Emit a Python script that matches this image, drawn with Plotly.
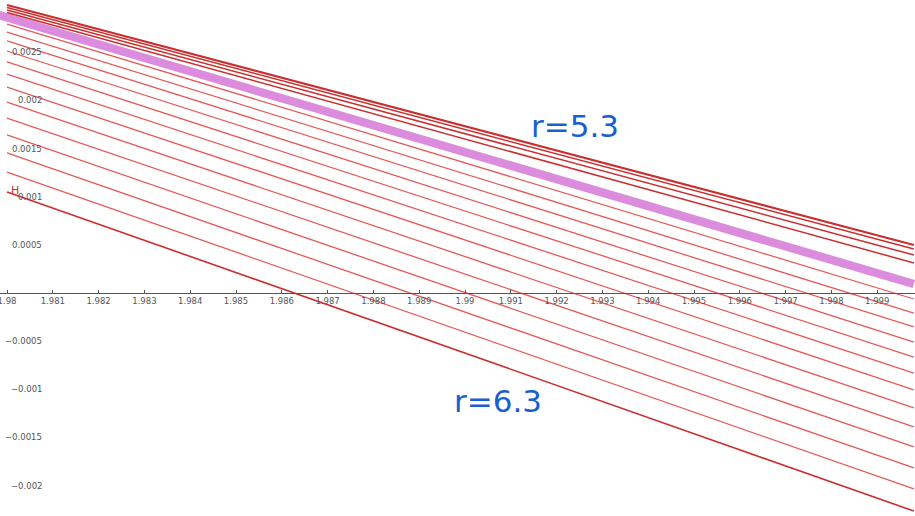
import plotly.graph_objects as go

# ---- data ----
x_start = 1.98
x_end = 1.9998

# upper cluster (near r=5.3)
top_left = [0.002991, 0.002965, 0.002939, 0.002913]
top_right = [0.000498, 0.000457, 0.000395, 0.000312]

# highlighted (magenta) curve
mag_left = 0.002861
mag_right = 0.0000935

# lower family (down to r=6.3)
low_left = [0.002793, 0.002710, 0.002617, 0.002513, 0.002399, 0.002274, 0.002139,
            0.001983, 0.001817, 0.001641, 0.001454, 0.001256, 0.001049]
low_right = [-0.0000623, -0.000208, -0.000353, -0.000509, -0.000665, -0.000831, -0.001007,
             -0.001194, -0.001391, -0.001599, -0.001817, -0.002035, -0.002264]

x_ticks = [1.98, 1.981, 1.982, 1.983, 1.984, 1.985, 1.986, 1.987, 1.988, 1.989, 1.99,
           1.991, 1.992, 1.993, 1.994, 1.995, 1.996, 1.997, 1.998, 1.999]
x_ticktext = ["1.98", "1.981", "1.982", "1.983", "1.984", "1.985", "1.986", "1.987", "1.988",
              "1.989", "1.99", "1.991", "1.992", "1.993", "1.994", "1.995", "1.996", "1.997",
              "1.998", "1.999"]
y_ticks = [0.0025, 0.002, 0.0015, 0.001, 0.0005, -0.0005, -0.001, -0.0015, -0.002]
y_ticktext = ["0.0025", "0.002", "0.0015", "0.001", "0.0005", "\u22120.0005", "\u22120.001",
              "\u22120.0015", "\u22120.002"]

labels = ["r=5.3", "r=6.3"]

# ---- layout constants ----
W, H = 915, 516
px_per_x = 45800.0      # pixels per unit x
px_per_y = 96300.0      # pixels per unit H
x0 = 1.98 - 7 / px_per_x
x1 = x0 + W / px_per_x
y1 = 293 / px_per_y
y0 = -(H - 293) / px_per_y

def px2x(p):
    return x0 + p / px_per_x

def py2y(p):
    return (293 - p) / px_per_y

fig = go.Figure()

thin = "rgba(224,68,68,0.88)"
dark = "#c92f2f"

for i, (a, b) in enumerate(zip(low_left, low_right)):
    last = i == len(low_left) - 1
    fig.add_trace(go.Scatter(x=[x_start, x_end], y=[a, b], mode="lines",
                             line=dict(color=dark if last else thin, width=1.6 if last else 1.3),
                             hoverinfo="skip", showlegend=False))

slope_m = (mag_left - mag_right) / (x_end - x_start)
fig.add_trace(go.Scatter(x=[x_start - 0.001, x_end], y=[mag_left + slope_m * 0.001, mag_right],
                         mode="lines", line=dict(color="#dc8cdc", width=8.5),
                         hoverinfo="skip", showlegend=False))

for i, (a, b) in enumerate(zip(top_left, top_right)):
    fig.add_trace(go.Scatter(x=[x_start, x_end], y=[a, b], mode="lines",
                             line=dict(color=dark, width=2.0 if i == 0 else 1.5),
                             hoverinfo="skip", showlegend=False))

# y tick labels (right-aligned, inside plot)
for v, t in zip(y_ticks, y_ticktext):
    fig.add_annotation(x=px2x(44), y=v, text=t, showarrow=False, xanchor="right",
                       yanchor="middle", font=dict(family="DejaVu Sans", size=8.5, color="#555555"))

fig.add_annotation(x=px2x(15), y=py2y(190), text="H", showarrow=False,
                   font=dict(family="DejaVu Sans", size=11, color="#cc3333"))

fig.add_annotation(x=px2x(575), y=py2y(126), text=labels[0], showarrow=False,
                   font=dict(family="DejaVu Sans", size=31, color="#1a5fd0"))
fig.add_annotation(x=px2x(498), y=py2y(401), text=labels[1], showarrow=False,
                   font=dict(family="DejaVu Sans", size=31, color="#1a5fd0"))

axis_pos = (0 - y0) / (y1 - y0)

fig.update_layout(
    width=W, height=H,
    margin=dict(l=0, r=0, t=0, b=0),
    paper_bgcolor="white", plot_bgcolor="white",
    xaxis=dict(range=[x0, x1], anchor="free", position=axis_pos,
               tickvals=x_ticks, ticktext=x_ticktext,
               showline=True, linecolor="#555555", linewidth=1.2,
               ticks="inside", ticklen=3, tickcolor="#555555",
               tickfont=dict(family="DejaVu Sans", size=8.5, color="#555555"),
               ticklabeloverflow="allow", automargin=False,
               showgrid=False, zeroline=False),
    yaxis=dict(range=[y0, y1], showticklabels=False, showgrid=False,
               zeroline=False, showline=False, ticks="", automargin=False),
)

fig.write_html("out.html", config={"displayModeBar": False},
               post_script="document.body.style.margin='0';document.body.style.overflow='hidden';")
